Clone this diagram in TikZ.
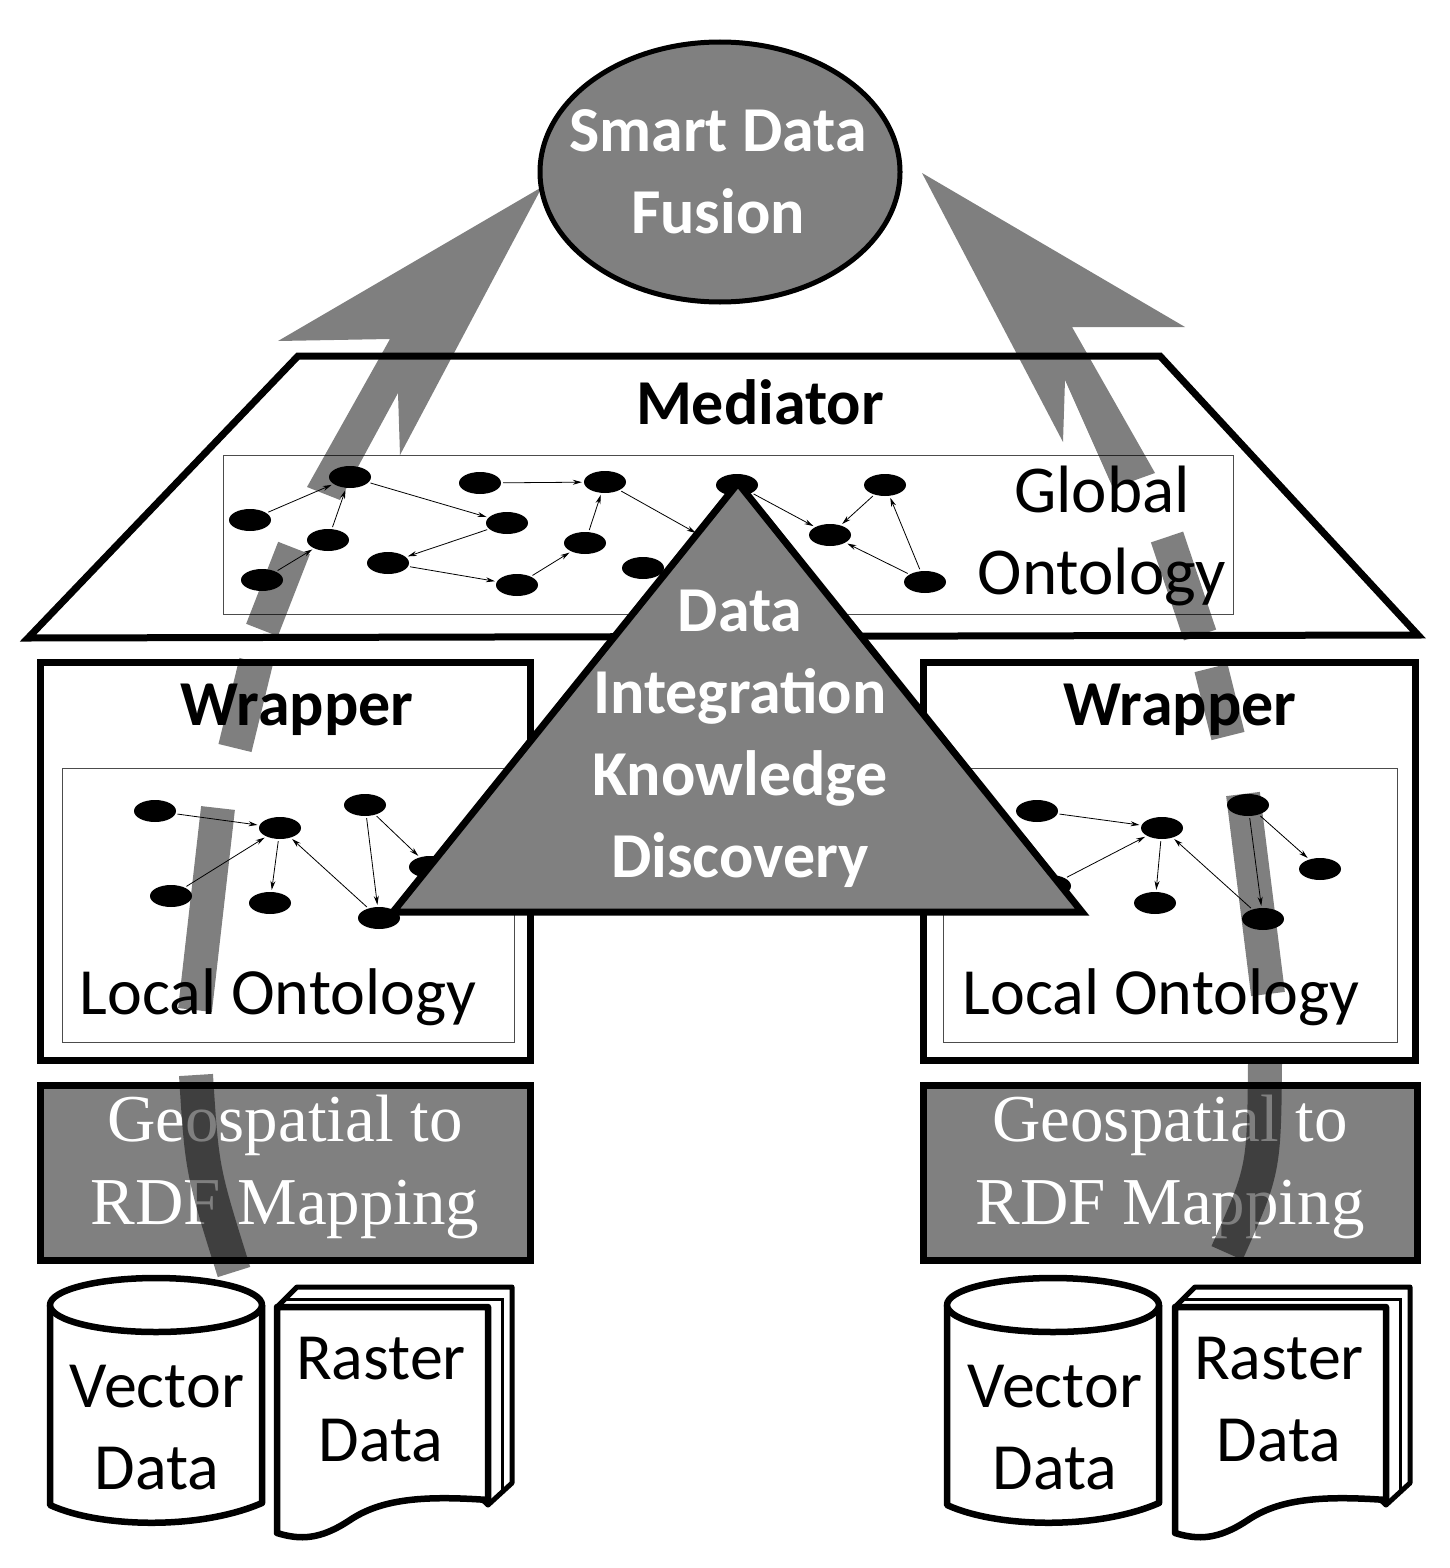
\documentclass[tikz,border=0pt]{standalone}
\usepackage{fontspec}
\setmainfont{Carlito}
\newfontfamily\tnr{Liberation Serif}
\usetikzlibrary{shapes.geometric,arrows.meta}
\definecolor{gfill}{HTML}{808080}
\begin{document}
\begin{tikzpicture}[x=1pt,y=-1pt,
  thick box/.style={draw=black,line width=7pt,fill=white,inner sep=0pt},
  thin box/.style={draw=black!70,line width=1pt,fill=none,inner sep=0pt},
  gray box/.style={draw=black,line width=7pt,fill=gfill,inner sep=0pt},
  ont/.style={ellipse,fill=black,minimum width=42pt,minimum height=22pt,inner sep=0pt},
  rel/.style={-{Stealth[length=9pt,width=5pt]},line width=0.8pt,shorten <=2pt,shorten >=2pt},
  txt/.style={font=\fontsize{66}{82}\selectfont,align=center,inner sep=0pt},
  btxt/.style={font=\fontsize{64}{82}\selectfont\bfseries,align=center,inner sep=0pt},
  wtxt/.style={btxt,text=white},
  stxt/.style={font=\tnr\fontsize{67}{83}\selectfont,text=white,align=center,inner sep=0pt},
  flow/.style={line width=34pt,draw=black,draw opacity=0.5,line cap=butt},
  flowhead/.style={fill=black,fill opacity=0.5},
  store/.style={draw=black,line width=6.5pt,fill=white,line join=round}]
\useasboundingbox (0,0) rectangle (1450,1568);

% Mediator
\draw[line width=7pt,fill=white,line join=miter] (298,356) coordinate (m1) -- (1160,356) coordinate (m2) -- (1418,635) coordinate (m3) -- (28,638) coordinate (m4) -- cycle;
\node[btxt] (med) at (760,402) {Mediator};
\node[thin box,minimum width=1010pt,minimum height=159pt] (gonto) at (728,534.5) {};
\node[txt,font=\fontsize{67}{82}\selectfont] (gtxt) at (1102,536) {Global\\Ontology};

% global ontology nodes
\node[ont] (g1) at (250,520) {};
\node[ont] (g2) at (350,477) {};
\node[ont] (g3) at (328,540) {};
\node[ont] (g4) at (262,580) {};
\node[ont] (g5) at (480,483) {};
\node[ont] (g6) at (507,523) {};
\node[ont] (g7) at (388,563) {};
\node[ont] (g8) at (517,585) {};
\node[ont] (g9) at (605,482) {};
\node[ont] (g10) at (585,543) {};
\node[ont] (g11) at (643,568) {};
\node[ont] (g12) at (737,485) {};
\node[ont] (g13) at (830,535) {};
\node[ont] (g14) at (885,485) {};
\node[ont] (g15) at (925,582) {};
\node[ont] (gh) at (712,542) {};
\draw[rel] (g1) -- (g2);
\draw[rel] (g4) -- (g3);
\draw[rel] (g3) -- (g2);
\draw[rel] (g2) -- (g6);
\draw[rel] (g5) -- (g9);
\draw[rel] (g10) -- (g9);
\draw[rel] (g9) -- (gh);
\draw[rel] (g6) -- (g7);
\draw[rel] (g7) -- (g8);
\draw[rel] (g8) -- (g10);
\draw[rel] (g12) -- (g13);
\draw[rel] (g14) -- (g13);
\draw[rel] (g15) -- (g13);
\draw[rel] (g15) -- (g14);

% Wrappers
\node[thick box,minimum width=490pt,minimum height=398pt] (wl) at (285,861) {};
\node[thick box,minimum width=492pt,minimum height=398pt] (wr) at (1169,861) {};
\node[btxt] (wlt) at (297,710) {Wrapper};
\node[btxt] (wrt) at (1180,710) {Wrapper};
\node[thin box,minimum width=452pt,minimum height=274pt] (ll) at (288,905) {};
\node[thin box,minimum width=454pt,minimum height=274pt] (lr) at (1170,905) {};
\node[txt] (llt) at (278,997) {Local Ontology};
\node[txt] (lrt) at (1161,997) {Local Ontology};

% local nodes left
\node[ont] (l1) at (155,811) {};
\node[ont] (l2) at (280,828) {};
\node[ont] (l3) at (365,805) {};
\node[ont] (l4) at (171,896) {};
\node[ont] (l5) at (270,903) {};
\node[ont] (l6) at (379,918) {};
\node[ont] (l7) at (430,867) {};
\draw[rel] (l1) -- (l2);
\draw[rel] (l4) -- (l2);
\draw[rel] (l2) -- (l5);
\draw[rel] (l6) -- (l2);
\draw[rel] (l3) -- (l6);
\draw[rel] (l3) -- (l7);
% local nodes right
\node[ont] (r1) at (1037,811) {};
\node[ont] (r2) at (1162,828) {};
\node[ont] (r3) at (1248,805) {};
\node[ont] (r4) at (1320,869) {};
\node[ont] (r5) at (1155,903) {};
\node[ont] (r6) at (1263,919) {};
\node[ont] (r7) at (1050,886) {};
\draw[rel] (r1) -- (r2);
\draw[rel] (r7) -- (r2);
\draw[rel] (r2) -- (r5);
\draw[rel] (r6) -- (r2);
\draw[rel] (r3) -- (r6);
\draw[rel] (r3) -- (r4);

% Mapping boxes
\node[gray box,minimum width=490pt,minimum height=175pt] (gl) at (285,1172.5) {};
\node[gray box,minimum width=494pt,minimum height=175pt] (gr) at (1170,1172.5) {};
\node[stxt] (glt) at (285,1167) {Geospatial to\\RDF Mapping};
\node[stxt] (grt) at (1170,1167) {Geospatial to\\RDF Mapping};

% Vector data cylinders
\draw[store] (50,1305) coordinate (cl) -- (50,1505) .. controls (100,1528) and (200,1530) .. (262,1503) -- (262,1305);
\draw[store] (156,1305) ellipse (106pt and 27pt);
\node[txt] (vl) at (157,1428) {Vector\\Data};
\draw[store] (947,1305) coordinate (cr) -- (947,1505) .. controls (997,1528) and (1097,1530) .. (1159,1503) -- (1159,1305);
\draw[store] (1053,1305) ellipse (106pt and 27pt);
\node[txt] (vr) at (1055,1428) {Vector\\Data};

% Raster data documents
\draw[line width=5pt,fill=white,line join=round] (277,1307) -- (297,1287) -- (512,1287) -- (512,1483) -- (488,1505) -- cycle;
\draw[line width=3pt] (285,1299) -- (502,1299) -- (502,1494);
\draw[store] (277,1307) -- (488,1307) -- (488,1500) .. controls (420,1495) and (380,1500) .. (350,1520) .. controls (320,1540) and (300,1540) .. (277,1533) -- cycle;
\node[txt] (rl) at (381,1400) {Raster\\Data};
\draw[line width=5pt,fill=white,line join=round] (1175,1307) -- (1195,1287) -- (1410,1287) -- (1410,1483) -- (1386,1505) -- cycle;
\draw[line width=3pt] (1183,1299) -- (1400,1299) -- (1400,1494);
\draw[store] (1175,1307) -- (1386,1307) -- (1386,1500) .. controls (1318,1495) and (1278,1500) .. (1248,1520) .. controls (1218,1540) and (1198,1540) .. (1175,1533) -- cycle;
\node[txt] (rr) at (1279,1400) {Raster\\Data};

% flow arrows (left)
\fill[flowhead] (542,187) -- (278,341) -- (390,339) -- (307,487) -- (340,500) -- (398,393) -- (400,455) -- cycle;
\draw[flow] (294,548) -- (262,630);
\draw[flow] (256,662) -- (235,748);
\draw[flow] (218,808) -- (195,1010);
\draw[flow] (196,1075) .. controls (202,1170) .. (234,1272);
% flow arrows (right)
\fill[flowhead] (922,173) -- (1185,327) -- (1072,327) -- (1155,473) -- (1113,488) -- (1065,380) -- (1063,442) -- cycle;
\draw[flow] (1167,537) -- (1200,635);
\draw[flow] (1211,668) -- (1228,736);
\draw[flow] (1243,794) -- (1268,994);
\draw[flow] (1265,1063) .. controls (1264,1170) .. (1227,1253);

% Triangle
\draw[line width=7pt,fill=gfill,line join=miter] (738,483) coordinate (t1) -- (1082,912) coordinate (t2) -- (393,912) coordinate (t3) -- cycle;
\node[wtxt] (tt) at (740,739) {Data\\Integration\\Knowledge\\Discovery};

% Smart Data Fusion
\node[ellipse,draw=black,line width=5pt,fill=gfill,minimum width=360pt,minimum height=260pt] (sdf) at (720,172) {};
\node[wtxt] (sdft) at (718,172) {Smart Data\\Fusion};
\end{tikzpicture}
\end{document}
